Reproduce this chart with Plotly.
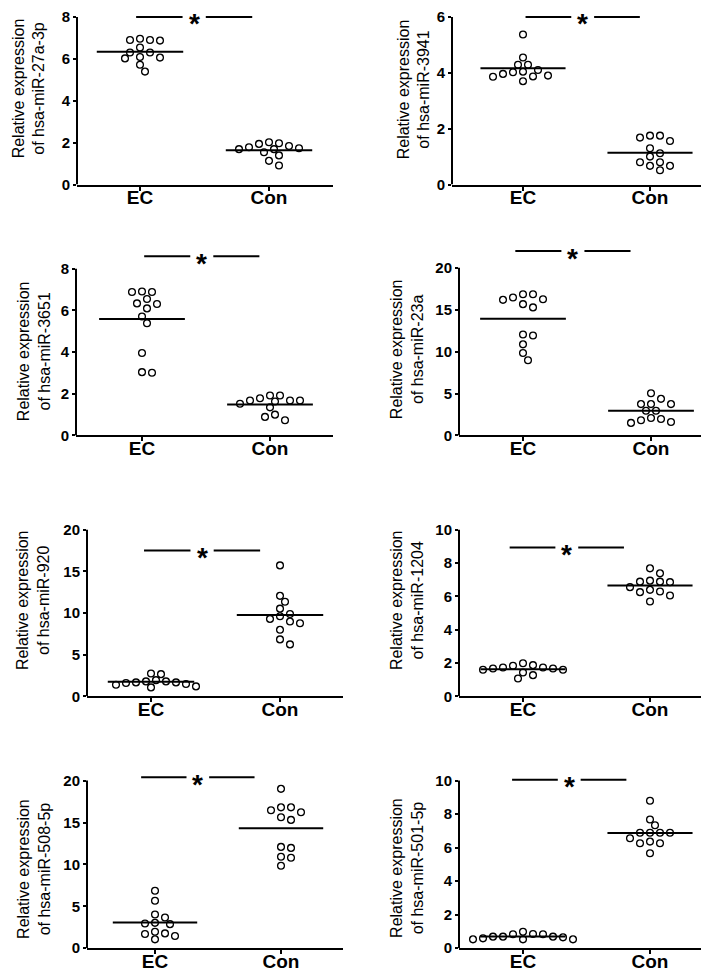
import numpy as np
import plotly.graph_objects as go

W, H = 709, 975

groups = ["EC", "Con"]
mirnas = ["hsa-miR-27a-3p", "hsa-miR-3941", "hsa-miR-3651", "hsa-miR-23a",
          "hsa-miR-920", "hsa-miR-1204", "hsa-miR-508-5p", "hsa-miR-501-5p"]

mir27a_ec = [6.96, 6.90, 6.87, 6.90, 6.54, 6.30, 6.30, 6.06, 6.02, 6.09, 5.72, 5.39]
mir27a_con = [1.84, 1.73, 1.69, 1.97, 2.02, 1.39, 1.54, 1.69, 1.78, 1.94, 1.13, 0.91]
mir3941_ec = [5.37, 4.55, 4.29, 4.29, 4.10, 4.04, 3.96, 4.02, 3.87, 3.86, 3.90, 3.70]
mir3941_con = [1.75, 1.56, 1.68, 1.75, 1.12, 1.30, 1.00, 0.80, 0.67, 0.67, 0.80, 0.51]
mir3651_ec = [6.55, 6.89, 6.89, 6.91, 6.31, 6.34, 6.10, 5.71, 5.39, 3.96, 3.01, 3.04]
mir3651_con = [1.68, 1.68, 1.52, 1.92, 1.92, 1.35, 1.63, 1.68, 1.79, 1.00, 0.73, 0.89]
mir23a_ec = [16.46, 16.85, 16.85, 16.18, 16.26, 15.28, 15.67, 11.93, 12.05, 10.87, 9.84, 8.98]
mir23a_con = [3.74, 2.95, 2.95, 4.37, 5.04, 3.74, 3.74, 2.09, 1.81, 1.50, 1.61, 1.97]
mir920_ec = [1.67, 1.59, 2.74, 2.66, 1.39, 1.79, 1.07, 1.79, 1.19, 1.94, 1.47, 1.67]
mir920_con = [15.71, 12.06, 11.35, 10.52, 9.88, 9.60, 9.29, 8.97, 8.77, 7.98, 6.83, 6.23]
mir1204_ec = [1.67, 1.87, 1.59, 1.73, 1.43, 1.73, 1.07, 1.83, 1.27, 1.98, 1.59, 1.67]
mir1204_con = [6.94, 6.88, 6.55, 6.25, 7.38, 7.68, 6.39, 6.85, 6.88, 6.29, 6.05, 5.69]
mir508_ec = [6.85, 5.67, 3.66, 4.02, 2.95, 2.87, 3.03, 1.97, 1.69, 1.06, 1.46, 1.77]
mir508_con = [19.02, 16.81, 16.81, 16.22, 16.46, 15.31, 15.63, 12.09, 11.97, 10.91, 10.79, 9.84]
mir501_ec = [0.69, 0.65, 0.85, 0.53, 0.83, 0.53, 0.69, 0.53, 0.83, 0.59, 0.98, 0.69]
mir501_con = [8.80, 7.68, 7.34, 6.89, 6.89, 6.56, 6.89, 6.89, 6.26, 6.36, 6.26, 5.67]

ticks_0_8 = [0, 2, 4, 6, 8]
ticks_0_6 = [0, 2, 4, 6]
ticks_0_20 = [0, 5, 10, 15, 20]
ticks_0_10 = [0, 2, 4, 6, 8, 10]

series = [
    (mir27a_ec, mir27a_con, ticks_0_8),
    (mir3941_ec, mir3941_con, ticks_0_6),
    (mir3651_ec, mir3651_con, ticks_0_8),
    (mir23a_ec, mir23a_con, ticks_0_20),
    (mir920_ec, mir920_con, ticks_0_20),
    (mir1204_ec, mir1204_con, ticks_0_10),
    (mir508_ec, mir508_con, ticks_0_20),
    (mir501_ec, mir501_con, ticks_0_10),
]

# layout (pixel geometry) per panel: axis left, axis right, EC px, Con px,
# y0 px, top-tick px, bracket level, bracket centre, title centre (x, y)
geom = [
    dict(xl=69, xr=325, ec=132, con=261, y0=178, yt=9, sig=8.0, c=0.42, tx=21, ty=81),
    dict(xl=444, xr=706, ec=515, con=642, y0=178, yt=9, sig=6.0, c=0.47, tx=406, ty=82),
    dict(xl=68, xr=325, ec=134, con=262, y0=431, yt=263, sig=8.6, c=0.467, tx=26, ty=346),
    dict(xl=451, xr=706, ec=515, con=643, y0=431, yt=262, sig=22.0, c=0.39, tx=399, ty=344),
    dict(xl=79, xr=335, ec=143, con=272, y0=694, yt=526, sig=17.5, c=0.396, tx=25, ty=597),
    dict(xl=451, xr=706, ec=515, con=642, y0=694, yt=526, sig=8.93, c=0.345, tx=399, ty=597),
    dict(xl=79, xr=335, ec=147, con=273, y0=948, yt=779, sig=20.4, c=0.34, tx=26, ty=868),
    dict(xl=451, xr=706, ec=515, con=642, y0=948, yt=779, sig=10.05, c=0.364, tx=399, ty=867),
]


def swarm(vals, upy, step=5.0, mind=7.6):
    """Beeswarm offsets in pixels given pixel-per-unit on y."""
    order = sorted(range(len(vals)), key=lambda i: -vals[i])
    cands = [0.0]
    for k in range(1, 40):
        cands += [k * step, -k * step]
    placed = []
    offs = [0.0] * len(vals)
    for i in order:
        yp = vals[i] * upy
        for dx in cands:
            ok = all((dx - px) ** 2 + (yp - py) ** 2 >= mind ** 2 for px, py in placed)
            if ok:
                offs[i] = dx
                placed.append((dx, yp))
                break
    return offs


fig = go.Figure()
shapes = []
annotations = []
FONT = "Liberation Sans, Arial, sans-serif"

for n, ((ec_vals, con_vals, ticks), g, name) in enumerate(zip(series, geom, mirnas), start=1):
    sfx = "" if n == 1 else str(n)
    xa, ya = "x" + sfx, "y" + sfx
    top = ticks[-1]
    upy = (g["y0"] - g["yt"]) / top
    upx = g["con"] - g["ec"]
    ext = max(top, g["sig"]) + 0.05 * top
    top_px = g["y0"] - ext * upy
    xr0 = -(g["ec"] - g["xl"]) / upx
    xr1 = 1 + (g["xr"] - g["con"]) / upx

    for gi, vals in enumerate([ec_vals, con_vals]):
        offs = swarm(vals, upy)
        xs = [gi + o / upx for o in offs]
        fig.add_trace(go.Scatter(
            x=xs, y=vals, mode="markers", xaxis=xa, yaxis=ya, showlegend=False,
            cliponaxis=False,
            marker=dict(symbol="circle", size=6.8, color="white",
                        line=dict(color="black", width=1.3))))
        m = float(np.mean(vals))
        fig.add_trace(go.Scatter(
            x=[gi - 0.335, gi + 0.335], y=[m, m], mode="lines", xaxis=xa, yaxis=ya,
            showlegend=False, line=dict(color="black", width=2)))

    # y axis line from 0 to the top tick
    shapes.append(dict(type="line", xref=xa + " domain", yref=ya, x0=0, x1=0,
                       y0=0, y1=top, line=dict(color="black", width=2)))
    # significance bracket
    c = g["c"]
    for a, b in [(c - 0.45, c - 0.09), (c + 0.09, c + 0.45)]:
        shapes.append(dict(type="line", xref=xa, yref=ya, x0=a, x1=b,
                           y0=g["sig"], y1=g["sig"], line=dict(color="black", width=2)))
    annotations.append(dict(x=c, y=g["sig"], xref=xa, yref=ya, text="<b>*</b>",
                            showarrow=False, xanchor="center", yanchor="middle",
                            yshift=-7, font=dict(family=FONT, size=28, color="black")))
    annotations.append(dict(x=g["tx"] / W, y=1 - g["ty"] / H, xref="paper", yref="paper",
                            text="Relative expression<br>of " + name, textangle=-90,
                            showarrow=False, xanchor="center", yanchor="middle",
                            font=dict(family=FONT, size=16, color="black")))

    fig.update_layout({
        "xaxis" + sfx: dict(domain=[g["xl"] / W, g["xr"] / W], range=[xr0, xr1],
                            anchor=ya, tickvals=[0, 1], ticktext=groups,
                            showline=True, linewidth=2, linecolor="black",
                            ticks="outside", ticklen=4, tickwidth=2, tickcolor="black",
                            ticklabelstandoff=-9,
                            showgrid=False, zeroline=False,
                            tickfont=dict(family=FONT, size=19, color="black", weight="bold")),
        "yaxis" + sfx: dict(domain=[1 - g["y0"] / H, 1 - top_px / H], range=[0, ext],
                            anchor=xa, tickvals=ticks, ticktext=[str(t) for t in ticks],
                            showline=False, ticks="outside", ticklen=3, tickwidth=2,
                            tickcolor="black", showgrid=False, zeroline=False,
                            tickfont=dict(family=FONT, size=15, color="black", weight="bold")),
    })

fig.update_layout(width=W, height=H, margin=dict(l=0, r=0, t=0, b=0),
                  paper_bgcolor="white", plot_bgcolor="white",
                  shapes=shapes, annotations=annotations, showlegend=False)

fig.write_html("out.html")
